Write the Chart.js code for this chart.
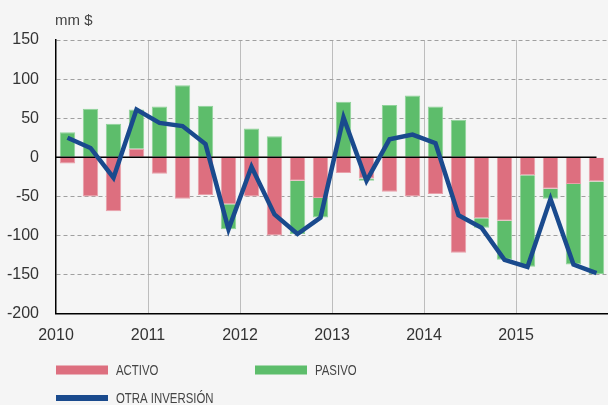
<!DOCTYPE html>
<html>
<head>
<meta charset="utf-8">
<script src="https://cdn.jsdelivr.net/npm/chart.js@4.4.0/dist/chart.umd.min.js"></script>
<style>
  html, body { margin: 0; padding: 0; background: #f5f5f5; }
  #wrap { width: 608px; height: 405px; }
</style>
</head>
<body>
<div id="wrap"><canvas id="myChart" width="608" height="405"></canvas></div>
<script>
// quarterly data, mm $
const quarters = [
  "2010 T1", "2010 T2", "2010 T3", "2010 T4",
  "2011 T1", "2011 T2", "2011 T3", "2011 T4",
  "2012 T1", "2012 T2", "2012 T3", "2012 T4",
  "2013 T1", "2013 T2", "2013 T3", "2013 T4",
  "2014 T1", "2014 T2", "2014 T3", "2014 T4",
  "2015 T1", "2015 T2", "2015 T3", "2015 T4"
];
const activo = [-8, -50, -69, 11, -21, -53, -48, -60, -50, -100, -30, -52,
                -20, -27, -44, -50, -47, -122, -78, -81, -23, -40, -34, -31];
const pasivo = [32, 62, 43, 50, 65, 92, 66, -32, 37, 27, -68, -25,
                71, -3, 67, 79, 65, 48, -12, -50, -117, -13, -103, -118];
const otraInversion = [25, 12, -26, 61, 44, 40, 17, -92, -12, -73, -98, -77,
                       51, -30, 23, 29, 18, -74, -90, -131, -140, -53, -137, -148];
const yearTicks = [2010, 2011, 2012, 2013, 2014, 2015, 2016];
const yTicks = [-200, -150, -100, -50, 0, 50, 100, 150];

const axisFont = { family: "'Liberation Sans', Arial, sans-serif", size: 16 };

const extras = {
  id: "extras",
  beforeDatasetDraw(chart, args) {
    if (args.meta.type !== "line") return;
    let ctx = chart.ctx;
    let y0 = chart.scales.y.getPixelForValue(0);
    let xEnd = chart.scales.x.getPixelForValue(quarters.length - 1);
    ctx.save();
    ctx.strokeStyle = "#000";
    ctx.lineWidth = 1.5;
    ctx.beginPath();
    ctx.moveTo(chart.chartArea.left, y0);
    ctx.lineTo(xEnd, y0);
    ctx.stroke();
    ctx.restore();
  },
  afterDraw(chart) {
    let ctx = chart.ctx;
    let left = chart.chartArea.left;
    ctx.save();
    // unit label
    ctx.fillStyle = "#444";
    ctx.font = "15px 'Liberation Sans', Arial, sans-serif";
    ctx.textBaseline = "middle";
    ctx.fillText("mm $", left - 1, 21);

    // legend (condensed text like the original)
    let slots = [[0, 370], [199, 370], [0, 398]];
    chart.data.datasets.forEach((ds, i) => {
      let x = left + slots[i][0];
      let y = slots[i][1];
      ctx.fillStyle = ds.type === "line" ? ds.borderColor : ds.backgroundColor;
      let h = ds.type === "line" ? 6 : 9;
      ctx.fillRect(x, y - h / 2, 52, h);
      ctx.save();
      ctx.translate(x + 60, y + 1);
      ctx.scale(0.76, 1);
      ctx.fillStyle = "#444";
      ctx.font = "15px 'Liberation Sans', Arial, sans-serif";
      ctx.fillText(ds.label, 0, 0);
      ctx.restore();
    });
    ctx.restore();
  }
};

var ctx = document.getElementById("myChart").getContext("2d");
var myChart = new Chart(ctx, {
  type: "bar",
  data: {
    labels: quarters,
    datasets: [
      {
        label: "ACTIVO",
        data: activo,
        backgroundColor: "#dd6f7f",
        borderColor: "#e9a0aa",
        borderWidth: 1,
        barPercentage: 0.67,
        categoryPercentage: 1,
        order: 1
      },
      {
        label: "PASIVO",
        data: pasivo,
        backgroundColor: "#5dbd6b",
        borderColor: "#8fd399",
        borderWidth: 1,
        barPercentage: 0.67,
        categoryPercentage: 1,
        order: 1
      },
      {
        type: "line",
        label: "OTRA INVERSIÓN",
        data: otraInversion,
        borderColor: "#1a4a8d",
        borderWidth: 4.5,
        borderJoinStyle: "miter",
        pointRadius: 0,
        tension: 0,
        fill: false,
        order: 0
      }
    ]
  },
  options: {
    responsive: false,
    animation: false,
    layout: { padding: { top: 40, right: 0, bottom: 48, left: 0 } },
    plugins: {
      legend: { display: false },
      title: { display: false },
      tooltip: { enabled: false }
    },
    scales: {
      x: {
        display: false,
        stacked: true,
        offset: true,
        afterFit: (scale) => {
          scale.paddingLeft = 0;
          scale.paddingRight = 0;
        }
      },
      x2: {
        type: "linear",
        position: "bottom",
        min: 2010,
        max: 2016,
        offset: false,
        afterBuildTicks: (scale) => {
          scale.ticks = yearTicks.map((v) => ({ value: v }));
        },
        afterFit: (scale) => {
          scale.paddingLeft = 0;
          scale.paddingRight = 0;
        },
        ticks: {
          font: axisFont,
          color: "#333",
          padding: 12,
          maxRotation: 0,
          autoSkip: false,
          callback: (v) => (v === 2016 ? "" : String(v))
        },
        grid: {
          offset: false,
          drawTicks: false,
          lineWidth: 1,
          color: (c) =>
            c.tick && (c.tick.value === 2010 || c.tick.value === 2016)
              ? "rgba(0,0,0,0)"
              : "#bdbdbd"
        },
        border: { color: "#000", width: 1.5 }
      },
      y: {
        stacked: true,
        min: -200,
        max: 150,
        afterBuildTicks: (scale) => {
          scale.ticks = yTicks.map((v) => ({ value: v }));
        },
        afterFit: (scale) => {
          scale.width = 56;
        },
        ticks: {
          font: axisFont,
          color: "#333",
          padding: 17
        },
        grid: {
          drawTicks: false,
          lineWidth: 1,
          color: (c) =>
            c.tick && (c.tick.value === -200 || c.tick.value === 0)
              ? "rgba(0,0,0,0)"
              : "#a0a0a0"
        },
        border: { color: "#000", width: 1.5, dash: [4, 3] }
      }
    }
  },
  plugins: [extras]
});
</script>
</body>
</html>
